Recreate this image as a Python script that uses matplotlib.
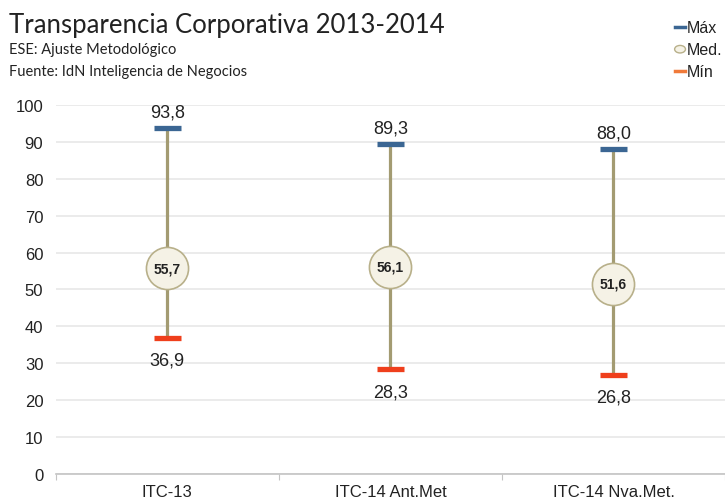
import numpy as np
import matplotlib.pyplot as plt

categories = ["ITC-13", "ITC-14 Ant.Met", "ITC-14 Nva.Met."]
max_vals = [93.8, 89.3, 88.0]
med_vals = [55.7, 56.1, 51.6]
min_vals = [36.9, 28.3, 26.8]

def fmt(v):
    return f"{v:.1f}".replace(".", ",")

plt.rcParams['font.family'] = ['Liberation Sans', 'DejaVu Sans']

fig = plt.figure(figsize=(7.25, 5.02), dpi=100)
# axes from x=56 to right edge, y=0 at 475px and y=100 at 106px
ax = fig.add_axes([0.077, 0.054, 0.923, 0.735])

x = np.arange(len(categories))
ax.set_xlim(-0.5, 2.5)
ax.set_ylim(0, 100)
ax.set_yticks(np.arange(0, 101, 10))
ax.yaxis.grid(True, color='#e8e8e8', lw=1.2)
ax.set_axisbelow(True)
for s in ['top', 'right', 'left']:
    ax.spines[s].set_visible(False)
ax.spines['bottom'].set_color('#c4c4c4')
ax.spines['bottom'].set_linewidth(1.2)
ax.tick_params(axis='y', length=0, labelsize=12, colors='#222222', pad=9)
ax.set_xticks([-0.5, 0.5, 1.5, 2.5])
ax.set_xticklabels([])
ax.tick_params(axis='x', length=4, color='#c4c4c4', direction='out')
for xi, c in zip(x, categories):
    ax.annotate(c, (xi, 0), xytext=(0, -12.5), textcoords='offset points',
                ha='center', va='center', fontsize=12, color='#222222',
                annotation_clip=False)

line_col = '#a39b72'
ax.vlines(x, min_vals, max_vals, color=line_col, lw=2.3, zorder=2)
for xi, hi, md, lo in zip(x, max_vals, med_vals, min_vals):
    ax.plot([xi - 0.062, xi + 0.062], [hi, hi], color='#3b6693', lw=3.8,
            solid_capstyle='butt', zorder=3, clip_on=False)
    ax.plot([xi - 0.062, xi + 0.062], [lo, lo], color='#ef3f1c', lw=3.8,
            solid_capstyle='butt', zorder=3, clip_on=False)
    ax.scatter([xi], [md], s=920, color='#f5f2e6', edgecolor='#b8b08a',
               lw=1.2, zorder=4)
    ax.text(xi, md, fmt(md), ha='center', va='center', fontsize=10,
            fontweight='bold', color='#222222', zorder=5)
    ax.annotate(fmt(hi), (xi, hi), xytext=(0, 11.5), textcoords='offset points',
                ha='center', va='center', fontsize=13, color='#222222',
                annotation_clip=False)
    ax.annotate(fmt(lo), (xi, lo), xytext=(0, -16), textcoords='offset points',
                ha='center', va='center', fontsize=13, color='#222222')

# titles
fig.text(0.012, 0.950, "Transparencia Corporativa 2013-2014", fontsize=18.5,
         family=['Lato', 'DejaVu Sans'], color='#222222', va='center')
fig.text(0.012, 0.900, "ESE: Ajuste Metodológico", fontsize=10.5,
         family=['Lato', 'DejaVu Sans'], color='#222222', va='center')
fig.text(0.012, 0.857, "Fuente: IdN Inteligencia de Negocios", fontsize=10.5,
         family=['Lato', 'DejaVu Sans'], color='#222222', va='center')

# legend
lx = 0.935
fig.lines.append(plt.Line2D([lx - 0.004, lx + 0.010], [0.944, 0.944], color='#3b6693',
                            lw=2.5, transform=fig.transFigure))
fig.text(lx + 0.012, 0.944, "Máx", fontsize=11.5, va='center', color='#222222')
fig.patches.append(plt.Circle((lx + 0.003, 0.900), 0.0075, transform=fig.transFigure,
                              facecolor='#f5f2e6', edgecolor='#b8b08a', lw=1))
fig.text(lx + 0.012, 0.900, "Med.", fontsize=11.5, va='center', color='#222222')
fig.lines.append(plt.Line2D([lx - 0.004, lx + 0.010], [0.856, 0.856], color='#f07a3a',
                            lw=2.5, transform=fig.transFigure))
fig.text(lx + 0.012, 0.856, "Mín", fontsize=11.5, va='center', color='#222222')

fig.savefig("out.png", dpi=100)
